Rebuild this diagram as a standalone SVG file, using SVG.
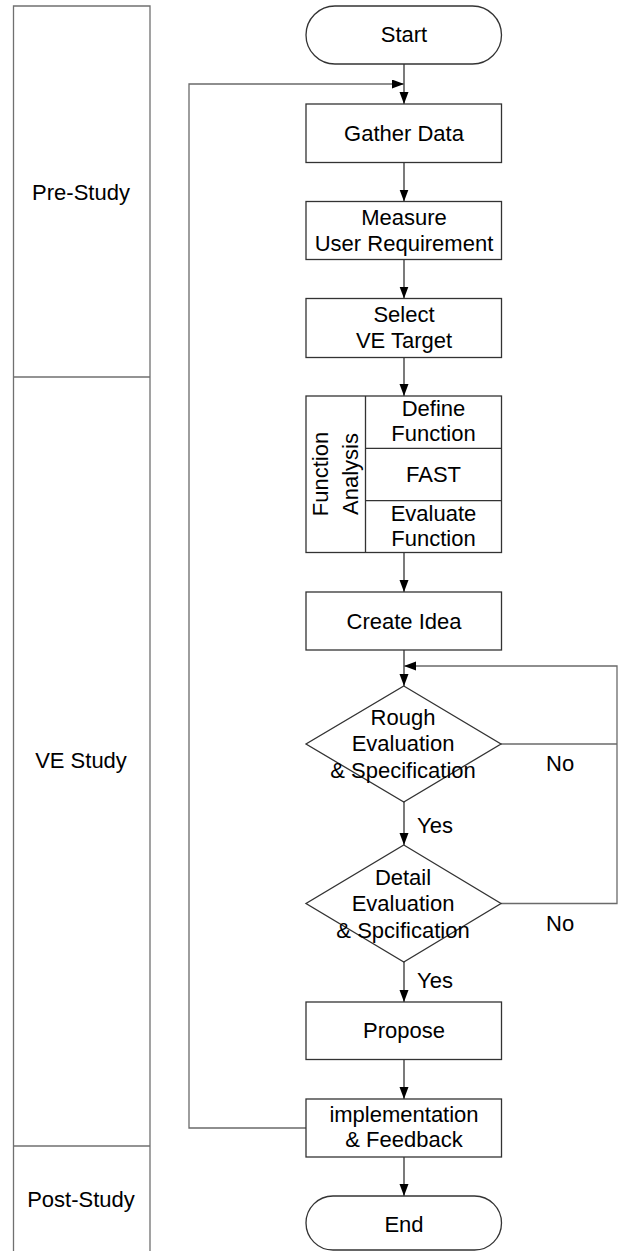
<svg xmlns="http://www.w3.org/2000/svg" width="618" height="1251" viewBox="0 0 618 1251">
<style>
text{font-family:"Liberation Sans",Arial,sans-serif;font-size:22px;fill:#000;text-anchor:middle}
.box{fill:#fff;stroke:#333;stroke-width:1.3}
.lane{fill:none;stroke:#707070;stroke-width:1.3}
.c{fill:none;stroke:#333;stroke-width:1.3}
.loop{fill:none;stroke:#6a6a6a;stroke-width:1.3}
.lbl{text-anchor:start}
</style>
<defs>
<marker id="ah" markerUnits="userSpaceOnUse" markerWidth="12" markerHeight="10" refX="12" refY="4.5" orient="auto">
<path d="M0,0 L12,4.5 L0,9 z" fill="#000"/>
</marker>
</defs>
<g id="lanes">
<path class="lane" d="M13.5,1251 V6 H150 V1251"/>
<path class="lane" d="M13.5,377 H150 M13.5,1146 H150" stroke="#444"/>
<text x="81" y="200">Pre-Study</text>
<text x="81" y="768">VE Study</text>
<text x="81" y="1207">Post-Study</text>
</g>
<g id="connectors">
<path class="c" d="M404,64 V104" marker-end="url(#ah)"/>
<path class="c" d="M404,162.5 V201.5" marker-end="url(#ah)"/>
<path class="c" d="M404,259.5 V298.5" marker-end="url(#ah)"/>
<path class="c" d="M404,357.5 V396" marker-end="url(#ah)"/>
<path class="c" d="M404,552.5 V592" marker-end="url(#ah)"/>
<path class="c" d="M404,650 V686" marker-end="url(#ah)"/>
<path class="c" d="M404,802 V845" marker-end="url(#ah)"/>
<path class="c" d="M404,962 V1002" marker-end="url(#ah)"/>
<path class="c" d="M404,1059.5 V1099" marker-end="url(#ah)"/>
<path class="c" d="M404,1157 V1196" marker-end="url(#ah)"/>
<path class="loop" d="M501,744 H617"/>
<path class="loop" d="M501,903.5 H617 V666 H404" marker-end="url(#ah)"/>
<path class="loop" d="M306,1128 H189 V84 H404" marker-end="url(#ah)"/>
<text class="lbl" x="546" y="771">No</text>
<text class="lbl" x="417" y="833">Yes</text>
<text class="lbl" x="546" y="931">No</text>
<text class="lbl" x="417" y="988">Yes</text>
</g>
<g id="start">
<rect class="box" x="306" y="6" width="195.5" height="58" rx="29"/>
<text x="404" y="42">Start</text>
</g>
<g id="gather">
<rect class="box" x="306" y="104" width="195.5" height="58.5"/>
<text x="404" y="141">Gather Data</text>
</g>
<g id="measure">
<rect class="box" x="306" y="201.5" width="195.5" height="58"/>
<text x="404" y="225">Measure</text>
<text x="404" y="251">User Requirement</text>
</g>
<g id="select">
<rect class="box" x="306" y="298.5" width="195.5" height="59"/>
<text x="404" y="322">Select</text>
<text x="404" y="348">VE Target</text>
</g>
<g id="function-analysis">
<rect class="box" x="306" y="396" width="195.5" height="156.5"/>
<path class="c" d="M365.5,396 V552.5 M365.5,448.3 H501.5 M365.5,500.7 H501.5"/>
<text transform="translate(328,474) rotate(-90)">Function</text>
<text transform="translate(358,474) rotate(-90)">Analysis</text>
<text x="433.5" y="416">Define</text>
<text x="433.5" y="441">Function</text>
<text x="433.5" y="482">FAST</text>
<text x="433.5" y="521">Evaluate</text>
<text x="433.5" y="546">Function</text>
</g>
<g id="create-idea">
<rect class="box" x="306" y="592" width="195.5" height="58"/>
<text x="404" y="629">Create Idea</text>
</g>
<g id="rough">
<path class="box" d="M403.8,686 L501,744 L403.8,802 L306,744 Z"/>
<text x="403" y="725">Rough</text>
<text x="403" y="751">Evaluation</text>
<text x="403" y="778">&amp; Specification</text>
</g>
<g id="detail">
<path class="box" d="M403.8,845 L501,903.5 L403.8,962 L306,903.5 Z"/>
<text x="403" y="885">Detail</text>
<text x="403" y="911">Evaluation</text>
<text x="403" y="938">&amp; Spcification</text>
</g>
<g id="propose">
<rect class="box" x="306" y="1002" width="195.5" height="57.5"/>
<text x="404" y="1038">Propose</text>
</g>
<g id="implementation">
<rect class="box" x="306" y="1099" width="195.5" height="58"/>
<text x="404" y="1122">implementation</text>
<text x="404" y="1147">&amp; Feedback</text>
</g>
<g id="end">
<rect class="box" x="306" y="1196" width="195.5" height="54" rx="27"/>
<text x="404" y="1232">End</text>
</g>
</svg>
